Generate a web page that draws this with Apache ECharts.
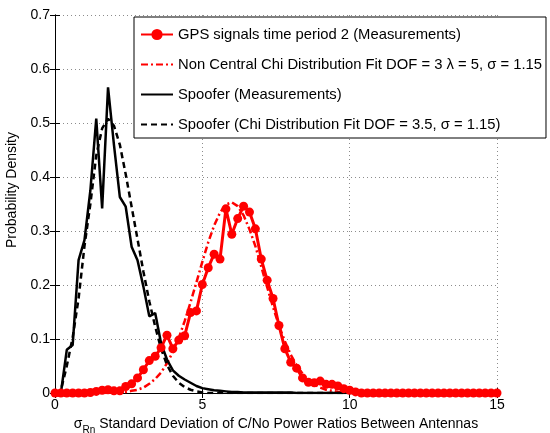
<!DOCTYPE html>
<html>
<head>
<meta charset="utf-8">
<script src="https://cdn.jsdelivr.net/npm/echarts@6/dist/echarts.min.js"></script>
<style>
  html, body { margin: 0; padding: 0; background: #fff; }
  #chart { width: 550px; height: 433px; }
</style>
</head>
<body>
<div id="chart"></div>
<script>
// sigma_Rn bins (0 .. 15, step 0.2)
const xValues = [
  0, 0.2, 0.4, 0.6, 0.8, 1, 1.2, 1.4, 1.6, 1.8,
  2, 2.2, 2.4, 2.6, 2.8, 3, 3.2, 3.4, 3.6, 3.8,
  4, 4.2, 4.4, 4.6, 4.8, 5, 5.2, 5.4, 5.6, 5.8,
  6, 6.2, 6.4, 6.6, 6.8, 7, 7.2, 7.4, 7.6, 7.8,
  8, 8.2, 8.4, 8.6, 8.8, 9, 9.2, 9.4, 9.6, 9.8,
  10, 10.2, 10.4, 10.6, 10.8, 11, 11.2, 11.4, 11.6, 11.8,
  12, 12.2, 12.4, 12.6, 12.8, 13, 13.2, 13.4, 13.6, 13.8,
  14, 14.2, 14.4, 14.6, 14.8, 15
];

const gpsMeasured = [
  0, 0, 0, 0, 0, 0, 0.001, 0.003, 0.005, 0.006,
  0.004, 0.004, 0.012, 0.017, 0.028, 0.043, 0.06, 0.068, 0.084, 0.107,
  0.082, 0.098, 0.106, 0.149, 0.152, 0.201, 0.232, 0.257, 0.248, 0.341,
  0.294, 0.323, 0.346, 0.335, 0.304, 0.248, 0.209, 0.175, 0.125, 0.082,
  0.057, 0.046, 0.028, 0.02, 0.019, 0.022, 0.016, 0.016, 0.013, 0.008,
  0.005, 0.002, 0, 0, 0, 0, 0, 0, 0, 0,
  0, 0, 0, 0, 0, 0, 0, 0, 0, 0,
  0, 0, 0, 0, 0, 0
];

const gpsFit = [
  0, 0, 0, 0, 0, 0, 0, 0, 0, 0,
  0.001, 0.001, 0.002, 0.004, 0.006, 0.01, 0.017, 0.026, 0.038, 0.055,
  0.076, 0.102, 0.133, 0.168, 0.205, 0.243, 0.279, 0.31, 0.334, 0.349,
  0.353, 0.346, 0.329, 0.303, 0.272, 0.234, 0.196, 0.159, 0.125, 0.096,
  0.071, 0.051, 0.036, 0.024, 0.016, 0.01, 0.006, 0.004, 0.002, 0.001,
  0.001, 0, 0, 0, 0, 0, 0, 0, 0, 0,
  0, 0, 0, 0, 0, 0, 0, 0, 0, 0,
  0, 0, 0, 0, 0, 0
];

const spooferMeasured = [
  0, 0, 0.08, 0.089, 0.246, 0.283, 0.375, 0.508, 0.342, 0.566,
  0.46, 0.363, 0.345, 0.271, 0.246, 0.197, 0.142, 0.148, 0.092, 0.062,
  0.042, 0.032, 0.025, 0.019, 0.013, 0.009, 0.007, 0.005, 0.004, 0.003,
  0.002, 0.002, 0.001, 0.001, 0.001, 0.001, 0.001, 0.001, 0.001, 0.001,
  0.001, 0, 0, 0, 0, 0, 0, 0, 0, 0,
  0, 0, 0, 0, 0, 0, 0, 0, 0, 0,
  0, 0, 0, 0, 0, 0, 0, 0, 0, 0,
  0, 0, 0, 0, 0, 0
];

const spooferFit = [
  0, 0.005, 0.05, 0.103, 0.175, 0.272, 0.35, 0.44, 0.49, 0.508,
  0.495, 0.46, 0.405, 0.345, 0.285, 0.225, 0.17, 0.123, 0.082, 0.052,
  0.032, 0.019, 0.011, 0.006, 0.003, 0.001, 0, 0, 0, 0,
  0, 0, 0, 0, 0, 0, 0, 0, 0, 0,
  0, 0, 0, 0, 0, 0, 0, 0, 0, 0,
  0, 0, 0, 0, 0, 0, 0, 0, 0, 0,
  0, 0, 0, 0, 0, 0, 0, 0, 0, 0,
  0, 0, 0, 0, 0, 0
];

const seriesNames = [
  "GPS signals time period 2 (Measurements)",
  "Non Central Chi Distribution Fit DOF = 3 \u03bb = 5, \u03c3 = 1.15",
  "Spoofer (Measurements)",
  "Spoofer (Chi Distribution Fit DOF = 3.5, \u03c3 = 1.15)"
];

const font = "Liberation Sans, Arial, Helvetica, sans-serif";
const pairs = (ys) => xValues.map((x, i) => [x, ys[i]]);

const gridLine = { show: true, lineStyle: { color: "#8c8c8c", width: 1, type: [1, 3] } };
const boxLine = { show: true, lineStyle: { color: "#000", width: 1 } };
const tickIn = { show: true, inside: true, length: 5, lineStyle: { color: "#000" } };
// plain line icons (no marker) for the three unmarked curves
const noMarker = { color: "rgba(0,0,0,0)", borderWidth: 0 };

let myChart = echarts.init(document.getElementById("chart"), null, { renderer: "canvas" });

const option = {
  animation: false,
  textStyle: { fontFamily: font },
  grid: { left: 55, right: 53, top: 15, bottom: 40, outerBoundsMode: "none" },
  legend: {
    orient: "vertical",
    left: 134,
    top: 17,
    padding: [10, 4, 6, 6],
    itemWidth: 32,
    itemHeight: 14,
    itemGap: 15,
    backgroundColor: "#fff",
    borderColor: "#000",
    borderWidth: 1,
    borderRadius: 0,
    textStyle: { fontFamily: font, fontSize: 14.8, color: "#000" },
    data: [
      { name: seriesNames[0] },
      { name: seriesNames[1], itemStyle: noMarker },
      { name: seriesNames[2], itemStyle: noMarker },
      { name: seriesNames[3], itemStyle: noMarker }
    ]
  },
  xAxis: [
    {
      type: "value", min: 0, max: 15, interval: 5,
      axisLine: boxLine, axisTick: tickIn, splitLine: gridLine,
      axisLabel: { color: "#000", fontSize: 14, margin: 5 },
      name: "{s|\u03c3}{sub|Rn}{t| Standard Deviation of C/No Power Ratios Between Antennas}",
      nameLocation: "middle",
      nameGap: 20,
      nameTextStyle: {
        rich: {
          s: { fontSize: 14, color: "#000", fontFamily: font, lineHeight: 16, verticalAlign: "top" },
          sub: { fontSize: 10, color: "#000", fontFamily: font, lineHeight: 12, padding: [8, 0, 0, 0], verticalAlign: "top" },
          t: { fontSize: 14, color: "#000", fontFamily: font, lineHeight: 16, verticalAlign: "top" }
        }
      }
    },
    {
      type: "value", position: "top", min: 0, max: 15, interval: 5,
      axisLine: boxLine, axisTick: tickIn, axisLabel: { show: false }, splitLine: { show: false }
    }
  ],
  yAxis: [
    {
      type: "value", min: 0, max: 0.7, interval: 0.1,
      axisLine: boxLine, axisTick: tickIn, splitLine: gridLine,
      axisLabel: { color: "#000", fontSize: 14, margin: 5 },
      name: "Probability Density",
      nameLocation: "middle",
      nameGap: 31,
      nameTextStyle: { color: "#000", fontSize: 14, fontFamily: font, padding: [0, 0, 0, 28] }
    },
    {
      type: "value", position: "right", min: 0, max: 0.7, interval: 0.1,
      axisLine: boxLine, axisTick: tickIn, axisLabel: { show: false }, splitLine: { show: false }
    }
  ],
  series: [
    {
      name: seriesNames[0], type: "line", data: pairs(gpsMeasured),
      symbol: "circle", symbolSize: 9, showSymbol: true, showAllSymbol: true,
      itemStyle: { color: "#ff0000" },
      lineStyle: { color: "#ff0000", width: 3 }
    },
    {
      name: seriesNames[1], type: "line", data: pairs(gpsFit),
      symbol: "none",
      itemStyle: { color: "#ff0000" },
      lineStyle: { color: "#ff0000", width: 2.5, type: [7, 3, 2, 3] }
    },
    {
      name: seriesNames[2], type: "line", data: pairs(spooferMeasured),
      symbol: "none",
      itemStyle: { color: "#000" },
      lineStyle: { color: "#000", width: 2.5 }
    },
    {
      name: seriesNames[3], type: "line", data: pairs(spooferFit),
      symbol: "none",
      itemStyle: { color: "#000" },
      lineStyle: { color: "#000", width: 2.5, type: [6, 4] }
    }
  ]
};

myChart.setOption(option);
</script>
</body>
</html>
